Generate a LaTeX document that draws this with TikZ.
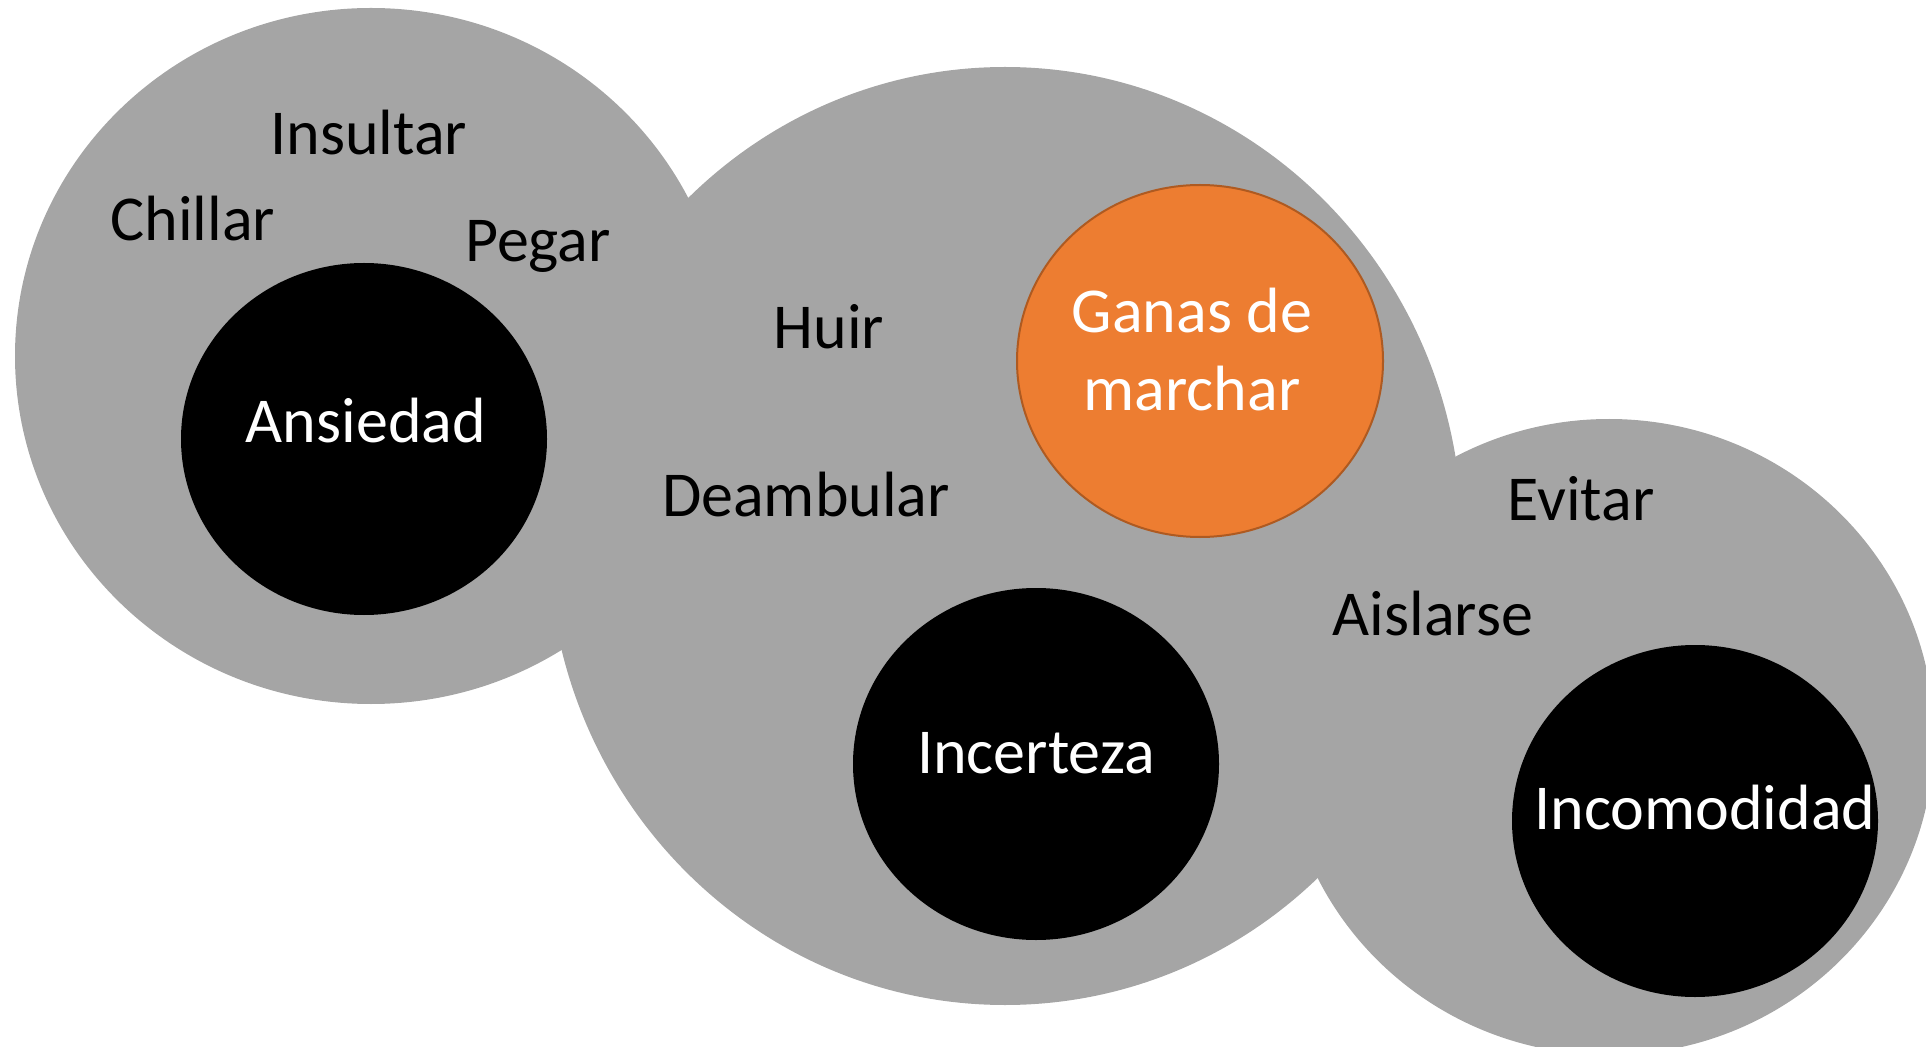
\documentclass[tikz,border=0pt]{standalone}
\usepackage{fontspec}
\setmainfont{Carlito}
\usetikzlibrary{shapes.geometric}
\definecolor{bubble}{HTML}{A5A5A5}
\definecolor{urge}{HTML}{ED7D31}
\definecolor{urgeline}{HTML}{AE5A21}
\tikzset{
  blob/.style={ellipse,fill=bubble,inner sep=0pt},
  core/.style={ellipse,fill=black,inner sep=0pt,minimum width=183pt,minimum height=176pt,text=white},
  word/.style={inner sep=0pt,font=\fontsize{32}{39}\selectfont}
}

\begin{document}
\begin{tikzpicture}[x=0.5pt,y=-0.5pt]
	\useasboundingbox (0,0) rectangle (1926,1047);
	% grey areas
	\node (b1) [blob,minimum width=356pt,minimum height=348pt] at (371,356) {};
	\node (b2) [blob,minimum width=457pt,minimum height=469pt] at (1005,536) {};
	\node (b3) [blob,minimum width=325pt,minimum height=318pt] at (1609,737) {};
	% feelings
	\node (ansiedad) [core] at (364,439) {};
	\node (ganas) [core,fill=urge,draw=urgeline,line width=1pt] at (1200,361) {};
	\node (incerteza) [core] at (1036,764) {};
	\node (incomodidad) [core] at (1695,821) {};
	\node [word,text=white] at (366,421) {Ansiedad};
	\node [word,text=white,align=center] at (1192,350) {Ganas de\\marchar};
	\node [word,text=white] at (1036,753) {Incerteza};
	\node [word,text=white] at (1705,808) {Incomodidad};
	% behaviours
	\node (insultar) [word] at (369,133) {Insultar};
	\node (chillar) [word] at (193,219) {Chillar};
	\node (pegar) [word] at (538,246) {Pegar};
	\node (huir) [word] at (829,327) {Huir};
	\node (deambular) [word] at (806,495) {Deambular};
	\node (evitar) [word] at (1581,499) {Evitar};
	\node (aislarse) [word] at (1433,614) {Aislarse};
\end{tikzpicture}
\end{document}
